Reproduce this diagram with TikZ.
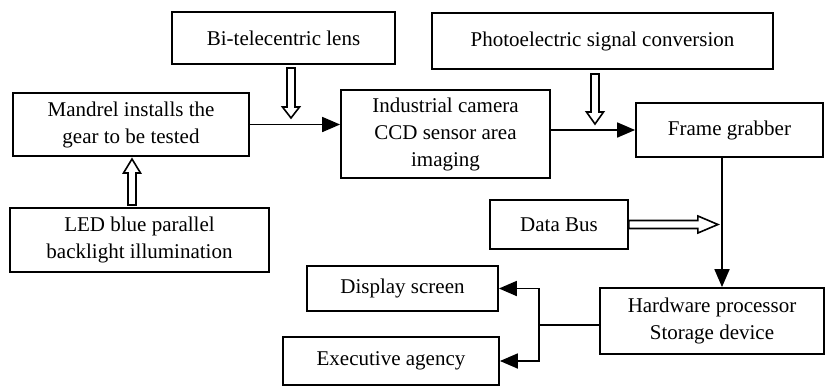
\documentclass[tikz,border=0pt]{standalone}
\usepackage{fontspec}
\setmainfont{Liberation Serif}
\usetikzlibrary{arrows.meta}
\tikzset{
  box/.style={draw, line width=1.8pt, align=center, inner sep=0pt,
    font=\fontsize{21}{27}\selectfont},
  arr/.style={line width=1.8pt, -{Triangle[length=18pt,width=15pt]}},
  ln/.style={line width=1.8pt},
  pics/hollow/.style 2 args={code={
    \draw[line width=1.6pt, fill=white, line join=miter]
      (0,-4) -- ({#1-#2},-4) -- ({#1-#2},-8.5) -- (#1,0) -- ({#1-#2},8.5)
      -- ({#1-#2},4) -- (0,4) -- cycle;}}
}
\begin{document}
\begin{tikzpicture}[x=1pt,y=-1pt]
\useasboundingbox (0,0) rectangle (825,386);
\node[box, minimum width=223pt, minimum height=52pt] (lens) at (283.5,38) {Bi-telecentric lens};
\node[box, minimum width=236pt, minimum height=63pt] (mandrel) at (131,124.5) {Mandrel installs the\\gear to be tested};
\node[box, minimum width=209pt, minimum height=88pt] (camera) at (445.5,134) {Industrial camera\\CCD sensor area\\imaging};
\node[box, minimum width=341pt, minimum height=56pt] (photo) at (602.5,41) {Photoelectric signal conversion};
\node[box, minimum width=187pt, minimum height=54pt] (frame) at (729.5,130) {Frame grabber};
\node[box, minimum width=259pt, minimum height=64pt] (led) at (139.5,240) {LED blue parallel\\backlight illumination};
\node[box, minimum width=191pt, minimum height=45pt] (display) at (402.5,288.5) {Display screen};
\node[box, minimum width=216pt, minimum height=48pt] (exec) at (391,361) {Executive agency};
\node[box, minimum width=138pt, minimum height=49pt] (bus) at (559,224.5) {Data Bus};
\node[box, minimum width=224pt, minimum height=66pt] (hw) at (712,321) {Hardware processor\\Storage device};

\coordinate (v) at (722,0);
\coordinate (j) at (539,325);

\draw[arr] (mandrel.east) -- (mandrel.east -| camera.west);
\draw[arr] (camera.east |- frame.west) -- (frame.west);
\draw[arr] (frame.south -| v) -- (hw.north -| v);
\draw[ln] (hw.west |- j) -- (j);
\draw[arr] (j) |- (display.east);
\draw[arr] (j) |- (exec.east);

\pic[rotate=-90] at (291,68) {hollow={50}{11}};
\pic[rotate=-90] at (595,74) {hollow={50}{12}};
\pic[rotate=90] at (132,205) {hollow={46}{14}};
\pic at (bus.east) {hollow={89}{20}};
\end{tikzpicture}
\end{document}
